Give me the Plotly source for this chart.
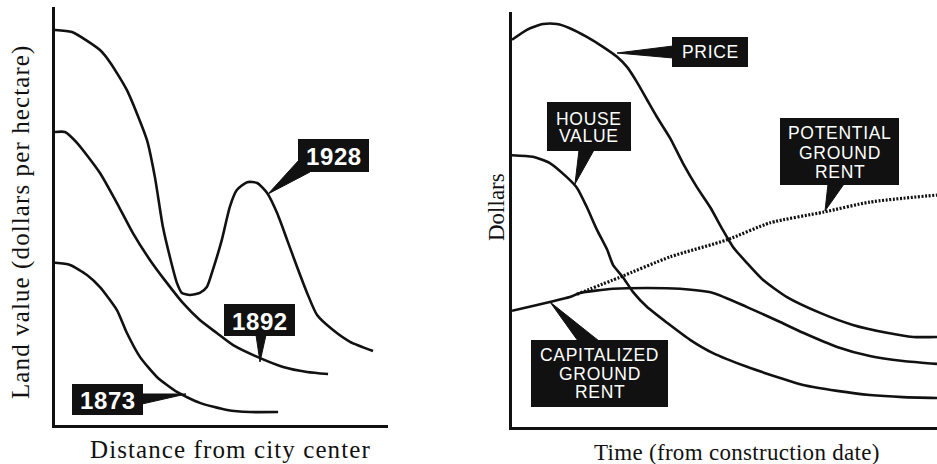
import plotly.graph_objects as go

# ---------------- data ----------------
# Left panel: land value vs distance from city center (arbitrary units 0-10)
dist_1928 = [0.00, 0.51, 1.35, 1.65, 2.16, 2.76, 3.00, 3.24, 3.45, 3.66, 3.81, 4.05, 4.35, 4.56, 4.74, 5.01, 5.25, 5.46, 5.77, 6.07, 6.37, 6.67, 6.97, 7.27, 7.57, 7.87, 8.35, 8.86, 9.55]
value_1928 = [9.45, 9.40, 8.97, 8.68, 8.01, 6.82, 5.93, 4.74, 4.02, 3.40, 3.16, 3.11, 3.16, 3.30, 3.71, 4.43, 5.22, 5.62, 5.81, 5.79, 5.55, 5.07, 4.43, 3.78, 3.16, 2.63, 2.27, 1.99, 1.77]

dist_1892 = [0.00, 0.30, 0.66, 1.35, 1.86, 2.34, 2.85, 3.36, 3.84, 4.35, 4.86, 5.35, 6.16, 6.85, 7.57, 8.20]
value_1892 = [7.01, 7.01, 6.75, 6.03, 5.31, 4.59, 3.95, 3.40, 2.92, 2.51, 2.20, 1.91, 1.60, 1.39, 1.27, 1.22]

dist_1873 = [0.00, 0.45, 0.96, 1.35, 1.86, 2.16, 2.55, 3.06, 3.66, 4.35, 5.17, 5.86, 6.70]
value_1873 = [3.88, 3.83, 3.59, 3.30, 2.75, 2.20, 1.63, 1.15, 0.79, 0.53, 0.36, 0.31, 0.31]

# Right panel: dollars vs time from construction date (arbitrary units 0-10)
time_price = [0.00, 0.35, 0.73, 1.06, 1.36, 1.76, 2.14, 2.47, 2.71, 2.94, 3.18, 3.41, 3.72, 4.02, 4.35, 4.66, 4.96, 5.20, 5.53, 5.91, 6.47, 7.25, 8.02, 8.82, 9.44, 10.00]
price = [9.33, 9.57, 9.71, 9.71, 9.61, 9.40, 9.16, 8.92, 8.67, 8.31, 7.88, 7.47, 6.96, 6.36, 5.78, 5.30, 4.75, 4.34, 3.95, 3.54, 3.13, 2.75, 2.46, 2.27, 2.17, 2.17]

time_house = [0.00, 0.49, 0.89, 1.29, 1.53, 1.76, 2.00, 2.24, 2.38, 2.61, 2.85, 3.18, 3.65, 4.19, 4.73, 5.53, 6.31, 6.85, 7.65, 8.42, 9.20, 10.00]
house_value = [6.55, 6.51, 6.36, 6.02, 5.76, 5.30, 4.75, 4.27, 3.90, 3.61, 3.25, 2.89, 2.51, 2.10, 1.78, 1.45, 1.18, 1.01, 0.87, 0.77, 0.72, 0.70]

time_cap = [0.00, 0.59, 0.89, 1.36, 1.60, 2.38, 3.18, 3.95, 4.73, 5.53, 6.31, 6.85, 7.65, 8.42, 9.20, 10.00]
cap_ground_rent = [2.80, 2.94, 3.01, 3.13, 3.23, 3.33, 3.35, 3.33, 3.23, 2.89, 2.53, 2.27, 1.93, 1.71, 1.59, 1.52]

time_potential = [1.53, 2.54, 3.72, 5.06, 6.07, 7.34, 8.42, 10.00]
potential_ground_rent = [3.20, 3.61, 4.10, 4.51, 4.92, 5.18, 5.42, 5.59]

year_labels = ["1928", "1892", "1873"]
right_labels = [["PRICE"], ["HOUSE", "VALUE"], ["POTENTIAL", "GROUND", "RENT"], ["CAPITALIZED", "GROUND", "RENT"]]

left_x_title = "Distance from city center"
left_y_title = "Land value (dollars per hectare)"
right_x_title = "Time (from construction date)"
right_y_title = "Dollars"

# ---------------- figure ----------------
W, H = 937, 464
INK = "#111111"
LW = 2.6


def px(x):
    return x / W


def py(y):
    return 1 - y / H


fig = go.Figure()

line_style = dict(color=INK, width=LW, shape="spline", smoothing=0.6)
for xs, ys in [(dist_1928, value_1928), (dist_1892, value_1892), (dist_1873, value_1873)]:
    fig.add_trace(go.Scatter(x=xs, y=ys, mode="lines", line=line_style,
                             xaxis="x", yaxis="y", hoverinfo="skip", showlegend=False))

for xs, ys in [(time_price, price), (time_house, house_value), (time_cap, cap_ground_rent)]:
    fig.add_trace(go.Scatter(x=xs, y=ys, mode="lines", line=line_style,
                             xaxis="x2", yaxis="y2", hoverinfo="skip", showlegend=False))

fig.add_trace(go.Scatter(x=time_potential, y=potential_ground_rent, mode="lines",
                         line=dict(color=INK, width=3.2, dash="2px,1.6px", shape="spline", smoothing=0.6),
                         xaxis="x2", yaxis="y2", hoverinfo="skip", showlegend=False))

axis_common = dict(range=[0, 10], showline=True, linecolor=INK, linewidth=2.5,
                   showgrid=False, zeroline=False, ticks="", showticklabels=False,
                   fixedrange=True)

shapes = []
annotations = []


def box(x0, y0, x1, y1):
    shapes.append(dict(type="rect", xref="paper", yref="paper",
                       x0=px(x0), x1=px(x1), y0=py(y1), y1=py(y0),
                       fillcolor=INK, line=dict(width=0), layer="above"))


def wedge(points):
    d = "M " + " L ".join(f"{px(a):.5f},{py(b):.5f}" for a, b in points) + " Z"
    shapes.append(dict(type="path", path=d, xref="paper", yref="paper",
                       fillcolor=INK, line=dict(color=INK, width=1), layer="above"))


def label(text, x, y, size, bold=False, spacing=0.0, family="Liberation Sans, Arial, sans-serif"):
    t = f"<b>{text}</b>" if bold else text
    if spacing:
        t = f'<span style="letter-spacing:{spacing}px">{t}</span>'
    annotations.append(dict(text=t, x=px(x), y=py(y), xref="paper", yref="paper",
                            xanchor="center", yanchor="middle", showarrow=False,
                            font=dict(family=family, size=size, color="white")))


# year labels (left panel)
box(298, 139, 369, 172); wedge([(299, 160), (310, 172), (268, 194)])
label(year_labels[0], 333.5, 156.5, 24, bold=True, spacing=0.6)
box(224, 304, 295, 336); wedge([(256, 335), (266, 335), (260, 362)])
label(year_labels[1], 259.5, 321, 24, bold=True, spacing=0.6)
box(72, 384, 143, 415); wedge([(142, 394), (142, 404), (186, 394)])
label(year_labels[2], 107.5, 400.5, 24, bold=True, spacing=0.6)

# right panel labels
box(672, 37, 748, 67); wedge([(673, 46), (673, 58), (617, 53)])
box(547, 102, 631, 151); wedge([(579, 150), (594, 150), (575, 184)])
box(780, 118, 899, 185); wedge([(828, 184), (844, 184), (825, 211)])
box(531, 340, 668, 407); wedge([(578, 341), (599, 341), (550, 302)])

label_specs = [
    (right_labels[0], 710, [52]),
    (right_labels[1], 589, [119, 136]),
    (right_labels[2], 839.5, [133, 152.5, 172]),
    (right_labels[3], 599.5, [355, 374, 392]),
]
for lines, cx, ys in label_specs:
    for txt, yy in zip(lines, ys):
        label(txt, cx, yy, 17.5, spacing=0.7)

# axis titles
serif = "Liberation Serif, Times New Roman, serif"
annotations.append(dict(text=f'<span style="letter-spacing:1.1px">{left_x_title}</span>',
                        x=px(230), y=py(449), xref="paper", yref="paper",
                        xanchor="center", yanchor="middle", showarrow=False,
                        font=dict(family=serif, size=25, color=INK)))
annotations.append(dict(text=f'<span style="letter-spacing:1.1px">{left_y_title}</span>',
                        x=px(21), y=py(222), xref="paper", yref="paper", textangle=-90,
                        xanchor="center", yanchor="middle", showarrow=False,
                        font=dict(family=serif, size=25, color=INK)))
annotations.append(dict(text=f'<span style="letter-spacing:0.3px">{right_x_title}</span>',
                        x=px(737), y=py(452), xref="paper", yref="paper",
                        xanchor="center", yanchor="middle", showarrow=False,
                        font=dict(family=serif, size=23, color=INK)))
annotations.append(dict(text=right_y_title,
                        x=px(497), y=py(207), xref="paper", yref="paper", textangle=-90,
                        xanchor="center", yanchor="middle", showarrow=False,
                        font=dict(family=serif, size=23, color=INK)))

fig.update_layout(
    width=W, height=H, autosize=False,
    margin=dict(l=0, r=0, t=0, b=0),
    paper_bgcolor="white", plot_bgcolor="white",
    showlegend=False,
    xaxis=dict(domain=[px(55), px(388)], anchor="y", **axis_common),
    yaxis=dict(domain=[py(425), py(7)], anchor="x", **axis_common),
    xaxis2=dict(domain=[px(512), 1.0], anchor="y2", **axis_common),
    yaxis2=dict(domain=[py(427), py(12)], anchor="x2", **axis_common),
    shapes=shapes,
    annotations=annotations,
)

fig.write_html("out.html", config={"displayModeBar": False},
               post_script="document.body.style.margin='0';document.body.style.overflow='hidden';")
